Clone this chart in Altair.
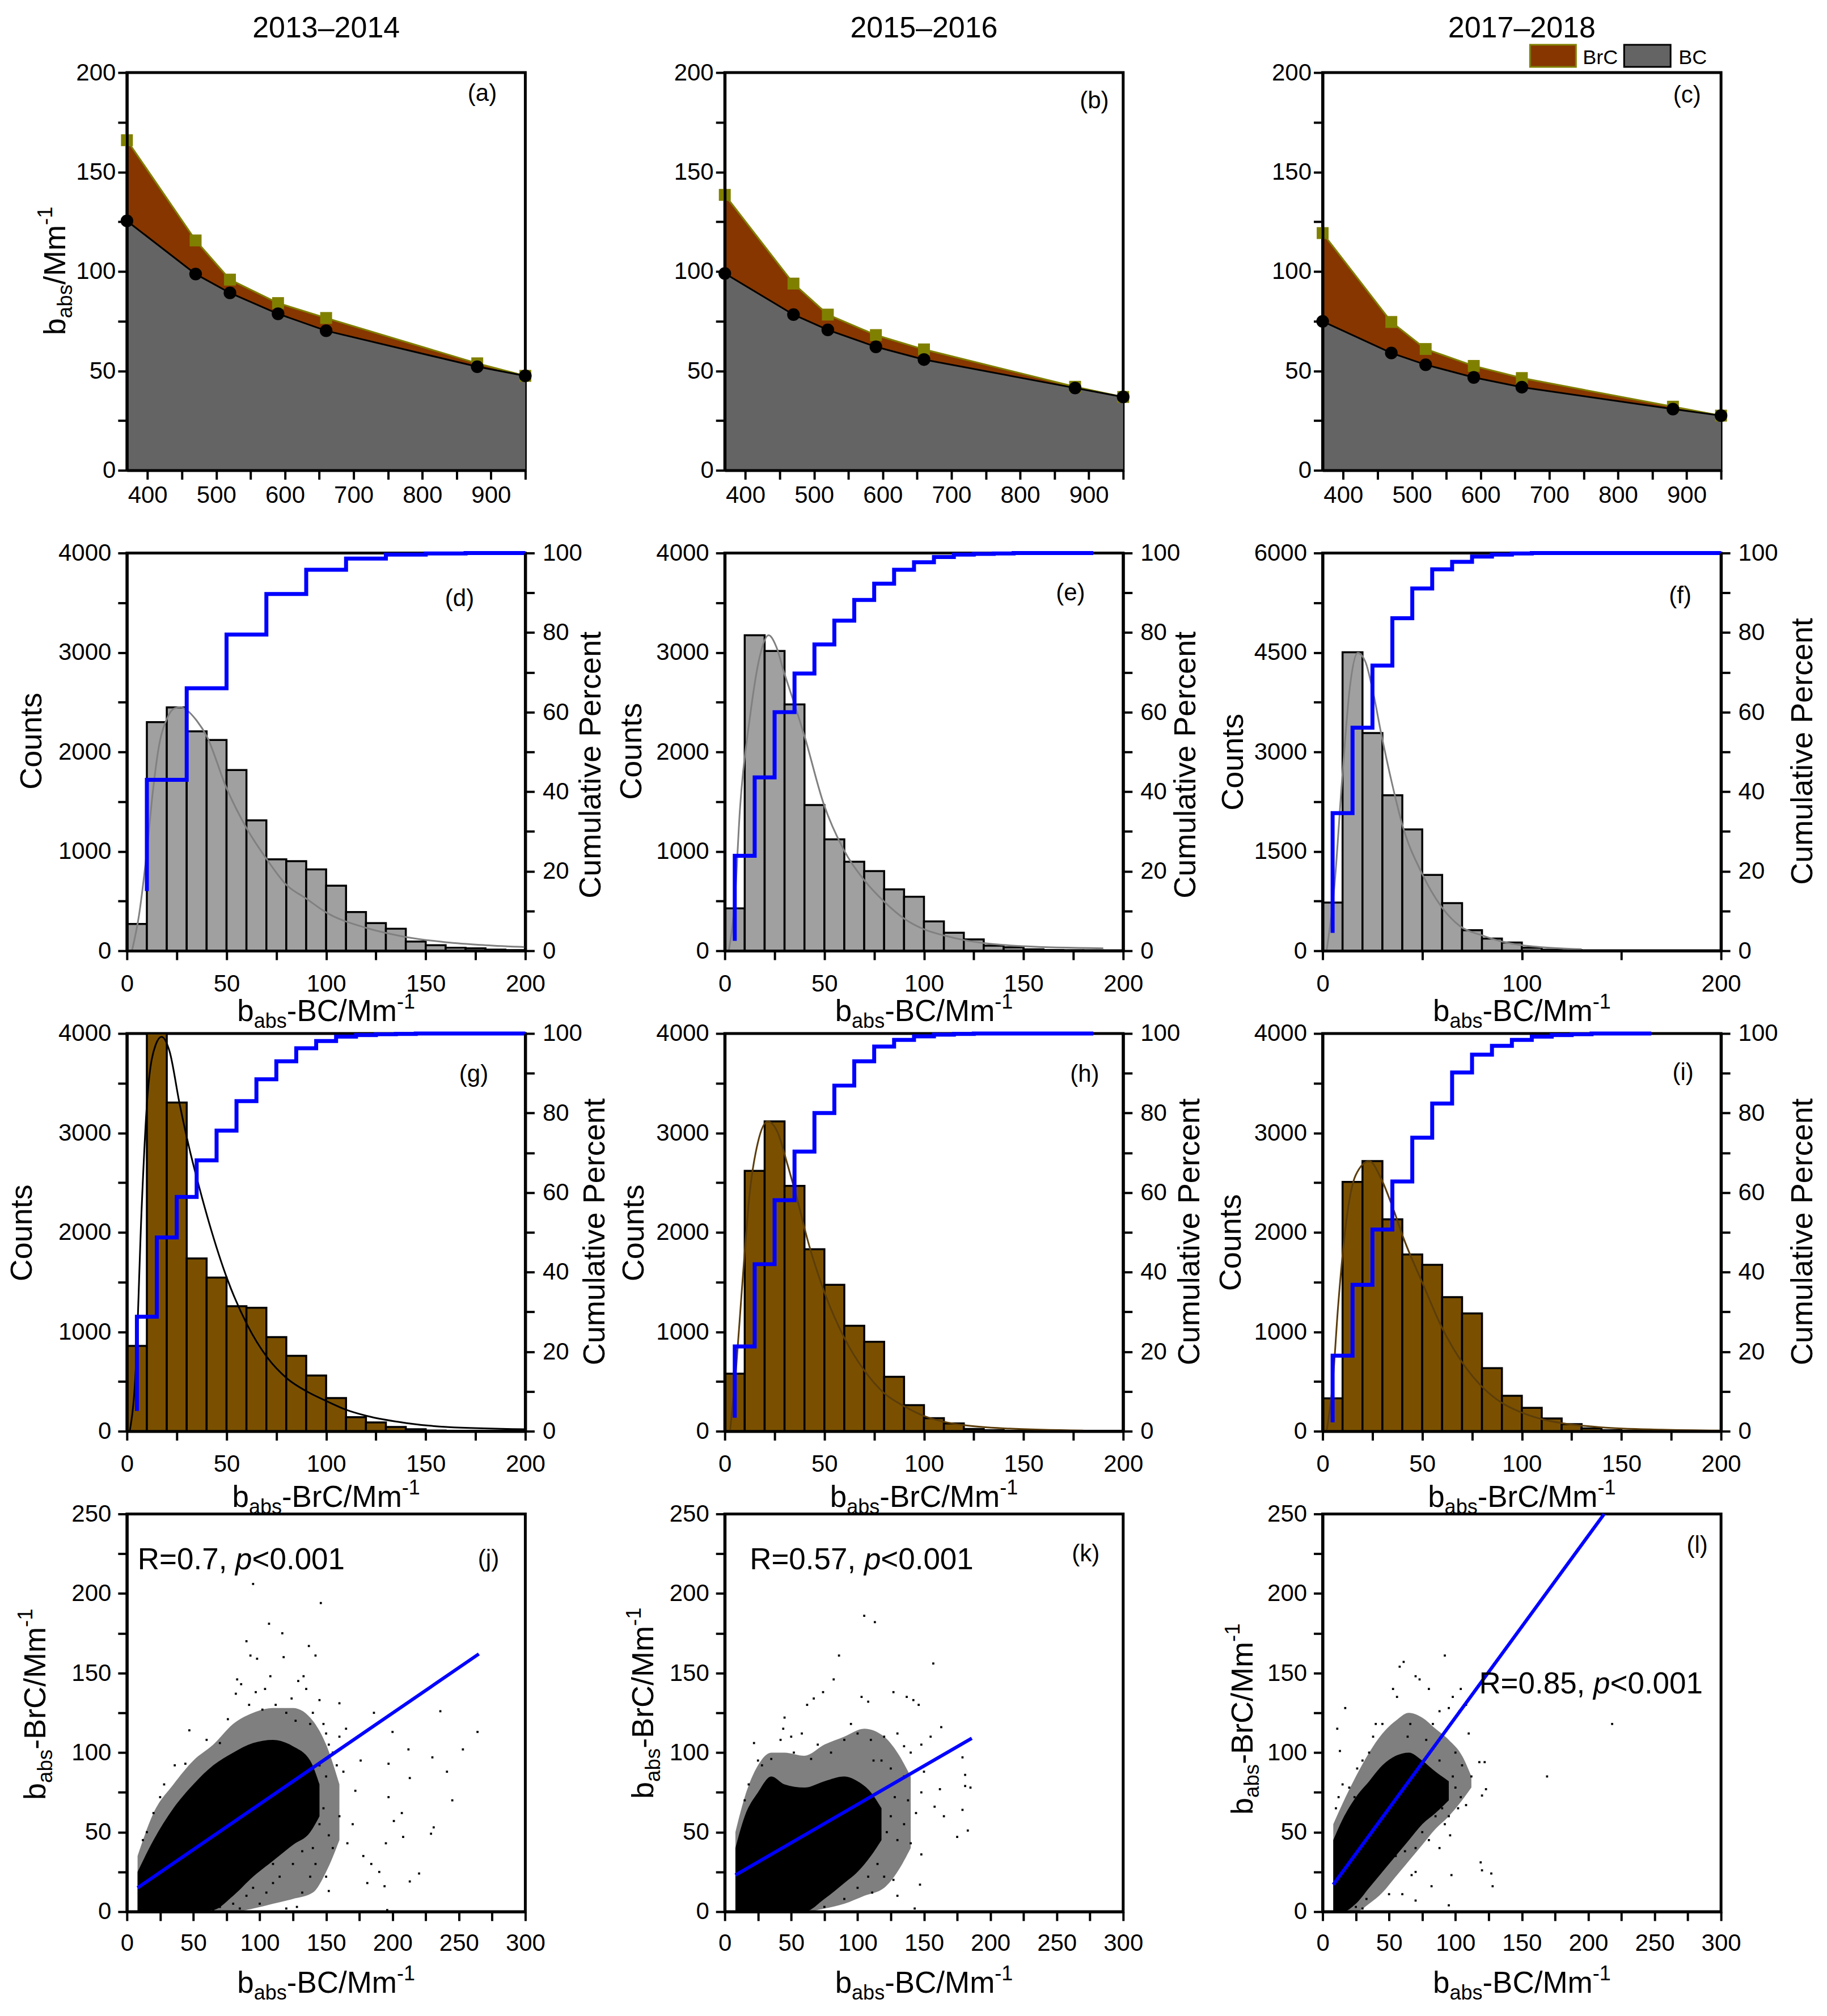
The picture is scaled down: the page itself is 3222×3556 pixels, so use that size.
import altair as alt
import pandas as pd

FONT = "Liberation Sans, Arial, sans-serif"
W, H = 703, 702

BRC_FILL = "#873600"
OLIVE = "#808000"
BC_FILL = "#646464"
GRAY_BAR = "#a0a0a0"
BROWN_BAR = "#7a5000"
BLUE = "#0000ff"

periods = ["2013–2014", "2015–2016", "2017–2018"]

# (a)-(c) absorption spectra
wavelength = [370, 470, 520, 590, 660, 880, 950]
bc_a = [125.4, 98.7, 89.2, 78.7, 70.2, 52.1, 47.5]
tot_a = [166.0, 115.6, 95.9, 84.1, 76.6, 53.8, 47.5]
bc_b = [99.0, 78.3, 70.6, 62.1, 55.7, 41.4, 36.9]
tot_b = [138.5, 93.9, 78.3, 68.0, 60.8, 42.0, 36.9]
bc_c = [74.9, 59.0, 53.1, 46.7, 41.8, 30.8, 27.5]
tot_c = [119.3, 74.6, 61.0, 52.5, 46.4, 32.0, 27.5]

# (d)-(i) histogram counts, bins of 10 from 0 to 200
hist_d = [270, 2300, 2448, 2207, 2120, 1818, 1312, 920, 901, 818, 654, 389, 278, 222, 93, 56, 31, 25, 12, 6]
hist_e = [426, 3173, 3015, 2478, 1466, 1120, 895, 802, 617, 543, 296, 182, 114, 52, 34, 15, 8, 5, 3, 2]
hist_f = [727, 4504, 3285, 2345, 1830, 1145, 718, 310, 185, 125, 46, 15, 6, 3, 0, 0, 0, 0, 0, 0]
hist_g = [858, 4000, 3306, 1738, 1545, 1257, 1241, 946, 759, 560, 334, 141, 88, 43, 20, 8, 4, 2, 1, 1]
hist_h = [579, 2619, 3116, 2468, 1830, 1473, 1061, 900, 547, 262, 131, 79, 23, 10, 5, 3, 2, 1, 0, 0]
hist_i = [331, 2507, 2717, 2131, 1777, 1673, 1349, 1185, 635, 357, 236, 128, 72, 29, 10, 5, 3, 2, 1, 0]

# cumulative percent (step line)
cum_d = [(10, 15), (30, 43), (50, 66), (70, 79.5), (90, 89.7), (110, 95.8), (130, 98.6), (150, 99.6),
         (170, 99.9), (190, 100), (200, 100)]
cum_e = [(5, 2.5), (15, 23.9), (25, 43.6), (35, 60), (45, 69.7), (55, 77), (65, 83), (75, 88.2), (85, 92.3),
         (95, 95.8), (105, 97.7), (115, 99), (125, 99.6), (135, 99.8), (145, 99.9), (155, 100), (185, 100)]
cum_f = [(5, 4.5), (15, 34.6), (25, 56.1), (35, 71.7), (45, 83.6), (55, 91.1), (65, 95.9), (75, 97.8),
         (85, 99.1), (95, 99.6), (105, 99.9), (115, 100), (200, 100)]
cum_g = [(5, 5.1), (15, 28.8), (25, 48.7), (35, 58.9), (45, 68.1), (55, 75.6), (65, 83), (75, 88.5), (85, 93),
         (95, 96.3), (105, 98.1), (115, 99.2), (125, 99.6), (135, 99.8), (145, 99.9), (155, 100), (200, 100)]
cum_h = [(5, 3.4), (15, 21.3), (25, 42), (35, 58.1), (45, 70.3), (55, 80), (65, 86.9), (75, 93), (85, 96.7),
         (95, 98.4), (105, 99.3), (115, 99.7), (125, 99.9), (135, 100), (185, 100)]
cum_i = [(5, 2.2), (15, 19), (25, 36.8), (35, 50.7), (45, 62.8), (55, 73.8), (65, 82.4), (75, 90.2), (85, 94.7),
         (95, 96.9), (105, 98.4), (115, 99.2), (125, 99.6), (135, 99.8), (145, 100), (165, 100)]

# fitted distribution curves
fit_d = [(2.5, 0), (6, 350), (10, 1000), (13, 1600), (16, 2050), (20, 2330), (24, 2440), (27, 2450), (30, 2420),
         (35, 2315), (40, 2160), (50, 1636), (60, 1235), (70, 926), (80, 664), (90, 525), (100, 386), (120, 231),
         (140, 139), (160, 86), (180, 56), (200, 37)]
fit_e = [(2, 0), (5, 494), (7.6, 1420), (12.6, 2346), (17.6, 2963), (22, 3173), (26, 3050), (29.6, 2810),
         (35, 2480), (40, 2160), (49.6, 1480), (59.6, 1020), (70, 710), (80, 494), (90, 324), (100, 216),
         (110, 154), (120, 108), (130, 77), (150, 46), (190, 25)]
fit_f = [(2, 0), (5.9, 973), (9.8, 2595), (13.7, 3985), (17.6, 4495), (21.5, 4356), (25.4, 3892), (29.3, 3290),
         (35, 2502), (40, 1900), (50, 1158), (60, 649), (69, 370), (80, 232), (90, 139), (100, 83), (109, 56),
         (130, 23)]
fit_g = [(1.4, 0), (4.4, 612), (7.4, 2249), (10.4, 3394), (14.4, 3885), (17.4, 3967), (21.4, 3820), (26.4, 3296),
         (31.4, 2838), (36.4, 2445), (41.4, 2085), (50.4, 1529), (60.4, 1070), (70.4, 743), (80.4, 530),
         (90.4, 399), (100.4, 301), (110.4, 213), (120.4, 154), (140.4, 82), (160.4, 43), (200, 20)]
fit_h = [(2.6, 0), (5.6, 612), (8.6, 1430), (12.6, 2412), (16.6, 2903), (21.6, 3116), (26.6, 3002), (31.6, 2674),
         (36.6, 2314), (41.6, 1921), (50, 1398), (60, 939), (70, 612), (80, 383), (90, 252), (100, 154),
         (110, 95), (120, 62), (140, 29), (180, 7)]
fit_i = [(2, 0), (4.9, 448), (7.8, 1267), (11.7, 2085), (16.6, 2576), (23.4, 2717), (29.3, 2543), (35.2, 2249),
         (41, 1921), (50, 1496), (60, 1038), (70, 694), (80, 448), (90, 285), (100, 187), (110, 121), (120, 82),
         (140, 39), (170, 16), (200, 7)]

# (j)-(l) scatter: solid-black core and speckled fringe (x, upper, lower), plus scattered points
core_j = [(8, 25, 0), (20, 45, 0), (35, 65, 0), (50, 80, 0), (65, 92, 1), (80, 100, 10), (95, 106, 22),
          (110, 108, 32), (125, 104, 42), (138, 95, 50), (145, 80, 60)]
halo_j = [(8, 35, 0), (20, 62, 0), (35, 80, 0), (50, 95, 0), (65, 105, 0), (80, 118, 0), (95, 125, 2),
          (110, 128, 5), (125, 128, 8), (140, 120, 12), (150, 105, 25), (160, 80, 45)]
pts_j = [(95, 206), (146, 194), (107, 181), (117, 175), (90, 170), (137, 167), (93, 161), (98, 159), (118, 160),
         (142, 161), (133, 148), (108, 148), (83, 146), (160, 131), (186, 125), (236, 126), (264, 113),
         (200, 113), (212, 102), (253, 102), (230, 97), (241, 88), (197, 93), (213, 84), (197, 72), (245, 70),
         (207, 62), (231, 53), (229, 49), (201, 57), (208, 47), (195, 43), (184, 30), (220, 24), (213, 19),
         (196, 1), (194, 16), (181, 18), (190, 25), (178, 35), (166, 43), (170, 55), (160, 60), (172, 76),
         (176, 95), (165, 115), (155, 100), (150, 22), (152, 13), (138, 22), (128, 3), (132, 12), (120, 2),
         (100, 5), (110, 18), (155, 40), (145, 55), (47, 114), (76, 121), (82, 137), (86, 143), (102, 127),
         (112, 130), (124, 134), (129, 145), (135, 140), (145, 133), (150, 112), (160, 110), (140, 125),
         (70, 106), (60, 108), (44, 93), (36, 92), (28, 80), (25, 72), (20, 62), (15, 50), (12, 45), (92, 130),
         (97, 138), (104, 140), (120, 125), (127, 120), (138, 118), (148, 118), (152, 105), (158, 92), (150, 85),
         (163, 88), (145, 92), (142, 72), (148, 65), (152, 48), (140, 40), (142, 30), (125, 30), (132, 38),
         (115, 22), (105, 12), (90, 10), (80, 5), (70, 3), (65, 1), (85, 2), (95, 15), (110, 30), (120, 40)]
fitline_j = [(8, 15), (265, 162)]

core_k = [(8, 40, 0), (15, 60, 0), (25, 75, 0), (35, 85, 0), (45, 80, 0), (60, 78, 0), (75, 82, 8),
          (90, 85, 18), (100, 82, 25), (110, 75, 35), (118, 65, 45)]
halo_k = [(8, 50, 0), (15, 72, 0), (25, 92, 0), (35, 100, 0), (45, 100, 0), (60, 98, 0), (75, 105, 2),
          (90, 110, 5), (105, 115, 10), (120, 110, 15), (130, 100, 25), (140, 85, 40)]
pts_k = [(105, 186), (113, 182), (86, 161), (157, 156), (82, 146), (74, 138), (67, 134), (62, 130), (103, 135),
         (108, 132), (127, 138), (137, 135), (142, 133), (146, 130), (163, 116), (155, 110), (148, 105),
         (179, 97), (181, 86), (181, 79), (185, 78), (162, 77), (148, 75), (158, 66), (165, 60), (179, 64),
         (183, 51), (175, 47), (144, 62), (140, 43), (148, 36), (147, 17), (143, 2), (127, 20), (130, 10),
         (120, 22), (108, 22), (111, 12), (22, 106), (25, 95), (45, 122), (44, 115), (42, 108), (50, 110),
         (58, 112), (70, 105), (95, 118), (100, 112), (110, 108), (120, 110), (130, 112), (135, 104), (140, 100),
         (125, 90), (135, 85), (118, 95), (150, 88), (125, 60), (130, 45), (115, 30), (100, 15), (90, 8), (60, 3),
         (40, 1), (95, 0), (75, 3), (15, 70), (18, 80), (28, 92), (35, 96), (52, 100), (65, 96), (80, 100),
         (90, 108), (112, 95), (128, 72), (122, 50), (110, 40), (135, 55), (138, 70)]
fitline_k = [(8, 23), (186, 109)]

core_l = [(8, 45, 0), (15, 58, 0), (25, 72, 5), (35, 82, 15), (45, 92, 25), (55, 98, 35), (65, 100, 45),
          (75, 95, 55), (85, 88, 62), (95, 82, 70)]
halo_l = [(8, 55, 0), (15, 68, 0), (25, 85, 0), (35, 100, 5), (45, 112, 12), (55, 120, 22), (65, 125, 32),
          (75, 122, 42), (85, 115, 52), (95, 108, 60), (105, 98, 70), (112, 85, 78)]
pts_l = [(92, 161), (61, 157), (58, 154), (70, 148), (73, 146), (80, 140), (53, 140), (56, 135), (98, 135),
         (104, 140), (108, 130), (103, 126), (95, 128), (88, 126), (110, 112), (118, 94), (122, 94), (169, 85),
         (218, 118), (123, 77), (120, 73), (108, 67), (104, 72), (100, 78), (98, 85), (96, 48), (88, 40),
         (119, 31), (120, 26), (127, 24), (128, 16), (97, 23), (82, 16), (70, 25), (67, 23), (60, 11), (50, 11),
         (70, 7), (95, 4), (17, 128), (11, 115), (13, 101), (15, 80), (12, 72), (10, 65), (20, 78), (24, 72),
         (45, 118), (40, 118), (38, 110), (35, 100), (30, 95), (26, 90), (35, 28), (40, 22), (45, 30), (28, 12),
         (33, 8), (25, 3), (30, 2), (20, 0), (55, 35), (62, 38), (75, 50), (85, 60), (90, 65), (95, 60), (85, 75),
         (93, 80), (88, 95), (78, 108), (83, 118), (66, 118), (64, 110), (100, 100), (105, 92), (112, 85),
         (102, 65), (92, 55), (80, 45), (70, 40)]
fitline_l = [(8, 17), (212, 250)]

# ---------------------------------------------------------------- helpers
CHAR_W = {'b': .556, 'a': .556, 's': .5, '-': .333, 'B': .667, 'r': .333, 'C': .722, '/': .278, 'M': .833,
          'm': .833, '1': .556, 'R': .722, '=': .584, '0': .556, '.': .278, '7': .556, ',': .278, ' ': .278,
          '5': .556, '8': .556, 'p': .556, '<': .584}
ONE = pd.DataFrame({"k": [0]})

T_BC = [("b", "n"), ("abs", "sub"), ("-BC/Mm", "n"), ("-1", "sup")]
T_BRC = [("b", "n"), ("abs", "sub"), ("-BrC/Mm", "n"), ("-1", "sup")]
T_ABS = [("b", "n"), ("abs", "sub"), ("/Mm", "n"), ("-1", "sup")]


def text_w(s, size):
    return sum(CHAR_W.get(ch, .556) for ch in s) * size


def label(txt, x, y, size, angle=0, italic=False, align="center", baseline="middle"):
    kw = dict(text=txt, fontSize=size, font=FONT, align=align, baseline=baseline, color="black")
    if angle:
        kw["angle"] = angle
    if italic:
        kw["fontStyle"] = "italic"
    return alt.Chart(ONE).mark_text(**kw).encode(x=alt.value(x), y=alt.value(y))


def rich(parts, x, y, size, angle=0, anchor="center"):
    pieces = []
    for txt, kind in parts:
        fs = size * 0.68 if kind in ("sub", "sup") else size
        shift = {"sub": 0.22, "sup": -0.42}.get(kind, 0) * size
        pieces.append((txt, fs, shift, kind == "it"))
    total = sum(text_w(t, fs) for t, fs, _, _ in pieces)
    pos = -total / 2 if anchor == "center" else 0
    out = []
    for t, fs, shift, it in pieces:
        if angle:
            px, py = x + shift, y - pos
        else:
            px, py = x + pos, y + shift
        out.append(label(t, px, py, fs, angle=angle, italic=it, align="left", baseline="alphabetic"))
        pos += text_w(t, fs)
    return out


def axis(major, minor, orient, pad):
    return alt.Axis(values=sorted(major + minor), orient=orient, title=None, format="d",
                    labelExpr=f"indexof({major}, datum.value) >= 0 ? datum.label : ''",
                    labelPadding=pad, labelFlush=False, labelOverlap=False, zindex=1)


def ytitle(parts, xc, yc, size=54):
    return rich(parts, xc + 0.35 * size, yc, size, angle=270)


# ---------------------------------------------------------------- panels
def spec_panel(bc, tot, letter, lab, col):
    df = pd.DataFrame({"wl": wavelength, "bc": bc, "tot": tot})
    xax = axis([400, 500, 600, 700, 800, 900], [450, 550, 650, 750, 850, 950], "bottom", 8)
    yax = axis([0, 50, 100, 150, 200], [25, 75, 125, 175], "left", 4)
    X = alt.X("wl:Q", scale=alt.Scale(domain=[370, 950], nice=False, zero=False), axis=xax)
    ys = alt.Scale(domain=[0, 200], nice=False)
    base = alt.Chart(df)
    layers = [
        base.mark_area(color=BRC_FILL, opacity=1).encode(x=X, y=alt.Y("tot:Q", scale=ys, axis=yax), y2="bc:Q"),
        base.mark_area(color=BC_FILL, opacity=1).encode(x=X, y=alt.Y("bc:Q", scale=ys, axis=yax)),
        base.mark_line(color=OLIVE, strokeWidth=3).encode(x=X, y=alt.Y("tot:Q", scale=ys, axis=yax)),
        base.mark_line(color="black", strokeWidth=3).encode(x=X, y=alt.Y("bc:Q", scale=ys, axis=yax)),
        base.mark_square(color=OLIVE, size=440, opacity=1).encode(x=X, y=alt.Y("tot:Q", scale=ys, axis=yax)),
        base.mark_circle(color="black", size=500, opacity=1).encode(x=X, y=alt.Y("bc:Q", scale=ys, axis=yax)),
        label(f"({letter})", lab[0], lab[1], 42),
        label(periods[col], W / 2, -62, 52, baseline="alphabetic"),
    ]
    if col == 0:
        layers += ytitle(T_ABS, -128, 350)
    if col == 2:
        layers += [
            alt.Chart(ONE).mark_rect(fill=BRC_FILL, stroke=OLIVE, strokeWidth=3).encode(
                x=alt.value(366), x2=alt.value(447), y=alt.value(-49), y2=alt.value(-10)),
            label("BrC", 459, -15, 36, align="left", baseline="alphabetic"),
            alt.Chart(ONE).mark_rect(fill=BC_FILL, stroke="black", strokeWidth=3).encode(
                x=alt.value(532), x2=alt.value(614), y=alt.value(-49), y2=alt.value(-10)),
            label("BC", 628, -15, 36, align="left", baseline="alphabetic"),
        ]
    return alt.layer(*layers).properties(width=W, height=H)


edges = list(range(0, 201, 10))


def hist_panel(counts, fit, cum, ymax, ymaj, ymin, xmaj, xmin, fill, fitcolor, letter, lab, xt, xt_y,
               cnt_pos, cum_pos):
    bars = pd.DataFrame({"x0": edges[:-1], "x1": edges[1:], "n": counts}).query("n > 0").assign(z=0)
    fdf = pd.DataFrame(fit, columns=["x", "y"])
    cdf = pd.DataFrame(cum, columns=["x", "p"])
    xs = alt.Scale(domain=[0, 200], nice=False)
    ys = alt.Scale(domain=[0, ymax], nice=False)
    ps = alt.Scale(domain=[0, 100], nice=False)
    xax = axis(xmaj, xmin, "bottom", 22)
    yax = axis(ymaj, ymin, "left", 12)
    pax = axis([0, 20, 40, 60, 80, 100], [10, 30, 50, 70, 90], "right", 14)
    b = alt.Chart(bars).mark_rect(fill=fill, stroke="black", strokeWidth=3.5, opacity=1).encode(
        x=alt.X("x0:Q", scale=xs, axis=xax), x2="x1:Q",
        y=alt.Y("n:Q", scale=ys, axis=yax), y2="z:Q")
    f = alt.Chart(fdf).mark_line(color=fitcolor, strokeWidth=3, interpolate="monotone").encode(
        x=alt.X("x:Q", scale=xs, axis=xax), y=alt.Y("y:Q", scale=ys, axis=yax))
    left = alt.layer(b, f)
    c = alt.Chart(cdf).mark_line(color=BLUE, strokeWidth=7, interpolate="step-before").encode(
        x=alt.X("x:Q", scale=xs, axis=xax), y=alt.Y("p:Q", scale=ps, axis=pax))
    texts = [label(f"({letter})", lab[0], lab[1], 42),
             label("Counts", cnt_pos[0], cnt_pos[1], 54, angle=270),
             label("Cumulative Percent", W + cum_pos[0], cum_pos[1], 54, angle=270)]
    texts += rich(xt, W / 2, H + xt_y, 53)
    return alt.layer(left, c, *texts).resolve_scale(y="independent").properties(width=W, height=H)


def scatter_panel(core, halo, pts, line, rtxt, rpos, letter, lab, yt):
    xax = axis([0, 50, 100, 150, 200, 250, 300], [25, 75, 125, 175, 225, 275], "bottom", 20)
    yax = axis([0, 50, 100, 150, 200, 250], [25, 75, 125, 175, 225], "left", 12)
    X = alt.X("x:Q", scale=alt.Scale(domain=[0, 300], nice=False), axis=xax)
    ys = alt.Scale(domain=[0, 250], nice=False)
    layers = []
    for band, op in ((halo, 0.5), (core, 1)):
        layers.append(alt.Chart(pd.DataFrame(band, columns=["x", "hi", "lo"])).mark_area(
            color="black", opacity=op, interpolate="monotone").encode(
            x=X, y=alt.Y("hi:Q", scale=ys, axis=yax), y2="lo:Q"))
    layers += [
        alt.Chart(pd.DataFrame(pts, columns=["x", "y"])).mark_square(color="black", size=14, opacity=1).encode(
            x=X, y=alt.Y("y:Q", scale=ys, axis=yax)),
        alt.Chart(pd.DataFrame(line, columns=["x", "y"])).mark_line(color=BLUE, strokeWidth=6).encode(
            x=X, y=alt.Y("y:Q", scale=ys, axis=yax)),
        label(f"({letter})", lab[0], lab[1], 42),
    ]
    layers += rich([(f"R={rtxt}, ", "n"), ("p", "it"), ("<0.001", "n")], rpos[0], rpos[1], 53, anchor="start")
    layers += rich(T_BC, W / 2, H + 143, 53)
    layers += ytitle(T_BRC, yt[0], yt[1])
    return alt.layer(*layers).properties(width=W, height=H)


panels = [spec_panel(bc_a, tot_a, "a", (627, 37), 0),
          spec_panel(bc_b, tot_b, "b", (652, 50), 1),
          spec_panel(bc_c, tot_c, "c", (643, 40), 2)]

maj4, min4 = [0, 1000, 2000, 3000, 4000], [500, 1500, 2500, 3500]
xmaj, xmin = [0, 50, 100, 150, 200], [25, 75, 125, 175]
panels += [hist_panel(hist_d, fit_d, cum_d, 4000, maj4, min4, xmaj, xmin, GRAY_BAR, "#808080", "d", (587, 81),
                      T_BC, 124, (-167, 332), (117, 374)),
           hist_panel(hist_e, fit_e, cum_e, 4000, maj4, min4, xmaj, xmin, GRAY_BAR, "#808080", "e", (610, 71),
                      T_BC, 124, (-163, 350), (111, 374)),
           hist_panel(hist_f, fit_f, cum_f, 6000, [0, 1500, 3000, 4500, 6000], [750, 2250, 3750, 5250],
                      [0, 100, 200], [50, 150], GRAY_BAR, "#808080", "f", (631, 76),
                      T_BC, 124, (-157, 369), (145, 350))]
panels += [hist_panel(hist_g, fit_g, cum_g, 4000, maj4, min4, xmaj, xmin, BROWN_BAR, "black", "g", (612, 72),
                      T_BRC, 134, (-184, 352), (124, 350)),
           hist_panel(hist_h, fit_h, cum_h, 4000, maj4, min4, xmaj, xmin, BROWN_BAR, "#5c3d0a", "h", (635, 72),
                      T_BRC, 134, (-159, 352), (118, 350)),
           hist_panel(hist_i, fit_i, cum_i, 4000, maj4, min4, xmaj, xmin, BROWN_BAR, "#5c3d0a", "i", (636, 69),
                      T_BRC, 134, (-161, 369), (145, 350))]
panels += [scatter_panel(core_j, halo_j, pts_j, fitline_j, "0.7", (19, 98), "j", (638, 80), (-163, 336)),
           scatter_panel(core_k, halo_k, pts_k, fitline_k, "0.57", (44, 98), "k", (637, 71), (-145, 334)),
           scatter_panel(core_l, halo_l, pts_l, fitline_l, "0.85", (276, 317), "l", (661, 56), (-143, 362))]

chart = alt.concat(*panels, columns=3, spacing={"row": 146, "column": 352}, bounds="flush").properties(
    padding={"left": 2, "top": 12, "right": 4, "bottom": 4}
).configure_view(stroke="black", strokeWidth=5).configure_axis(
    labelFont=FONT, labelFontSize=42, labelColor="black", domainColor="black", domainWidth=5,
    tickColor="black", tickWidth=4, tickSize=16, grid=False)

chart.save("out.html", embed_options={"renderer": "svg", "actions": False})
